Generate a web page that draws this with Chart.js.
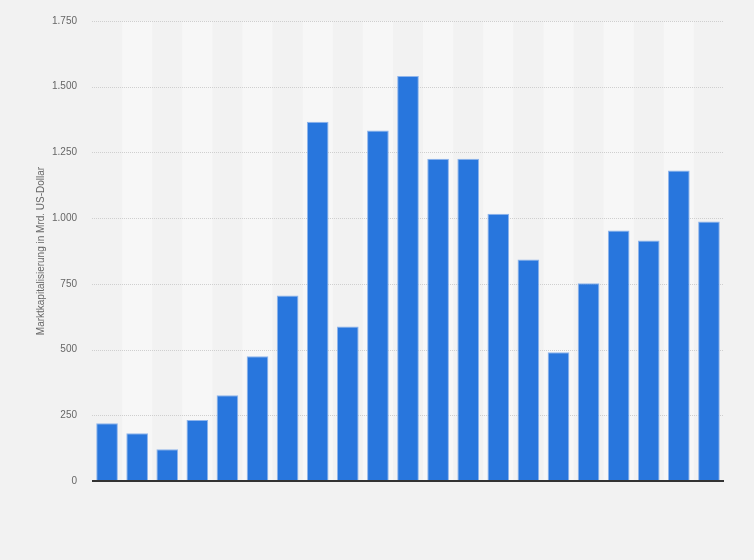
<!DOCTYPE html>
<html><head><meta charset="utf-8">
<script src="https://cdn.jsdelivr.net/npm/chart.js@4"></script>
<style>html,body{margin:0;padding:0;background:#f2f2f2;}#wrap{width:754px;height:560px;}</style>
</head><body><div id="wrap"><canvas id="c" width="754" height="560"></canvas></div>
<script>
const categories = ["2000","2001","2002","2003","2004","2005","2006","2007","2008","2009","2010","2011","2012","2013","2014","2015","2016","2017","2018","2019","2020"];
const values = [220,182,121,232,326,475,706,1367,588,1333,1541,1226,1226,1017,843,490,752,953,915,1181,987];
const yTicks = [0,250,500,750,1000,1250,1500,1750];
const yTitle = "Marktkapitalisierung in Mrd. US-Dollar";

const stripes = {
  id:'stripes',
  beforeDatasetsDraw(chart){
    const {ctx, chartArea:a, scales:{x}} = chart;
    ctx.save();
    const n = categories.length;
    const w = (a.right-a.left)/n;
    for(let i=0;i<n;i++){
      if(i%2===1){
        const cx = x.getPixelForValue(i);
        ctx.fillStyle='#f7f7f7';
        ctx.fillRect(cx-w/2, a.top, w, a.bottom-a.top);
      }
    }
    ctx.restore();
  },
  beforeDraw(chart){
    const {ctx,width,height}=chart;
    ctx.save();ctx.fillStyle='#f2f2f2';ctx.fillRect(0,0,width,height);ctx.restore();
  }
};
const gridDots = {
  id:'gridDots',
  beforeDatasetsDraw(chart){
    const {ctx, chartArea:a, scales:{y}} = chart;
    ctx.save();
    ctx.strokeStyle='#cfcfcf';ctx.lineWidth=1;ctx.setLineDash([1,1]);
    yTicks.forEach(t=>{ if(t===0) return; const py=Math.round(y.getPixelForValue(t))+0.5; ctx.beginPath();ctx.moveTo(a.left,py);ctx.lineTo(a.right,py);ctx.stroke();});
    ctx.restore();
  },
  afterDatasetsDraw(chart){
    const {ctx, chartArea:a, scales:{y}} = chart;
    ctx.save();
    ctx.strokeStyle='#333';ctx.lineWidth=2;
    const py=y.getPixelForValue(0);
    ctx.beginPath();ctx.moveTo(a.left,py);ctx.lineTo(a.right,py);ctx.stroke();
    ctx.restore();
  }
};

new Chart(document.getElementById('c'),{
  type:'bar',
  data:{labels:categories,datasets:[{data:values,backgroundColor:'#2876dd',borderColor:'#8fb5ec',borderWidth:{top:1,left:1,right:1,bottom:0},borderSkipped:'bottom',barPercentage:0.72,categoryPercentage:1.0}]},
  options:{
    responsive:false,animation:false,
    layout:{padding:{left:0,right:30,top:14,bottom:79}},
    plugins:{legend:{display:false},tooltip:{enabled:false}},
    scales:{
      x:{grid:{display:false,drawTicks:false},border:{display:false},ticks:{display:false}},
      y:{min:0,max:1750,
        afterBuildTicks(s){s.ticks=yTicks.map(v=>({value:v}));},
        afterFit(s){s.width=92;},
        grid:{display:false,drawTicks:false},border:{display:false},
        ticks:{padding:15,color:'#666',font:{family:'Arial, Liberation Sans',size:10},callback:v=>v.toLocaleString('de-DE')},
        title:{display:true,text:yTitle,color:'#666',font:{family:'Arial, Liberation Sans',size:10},padding:{top:35,bottom:0}}
      }
    }
  },
  plugins:[stripes,gridDots]
});
</script></body></html>
